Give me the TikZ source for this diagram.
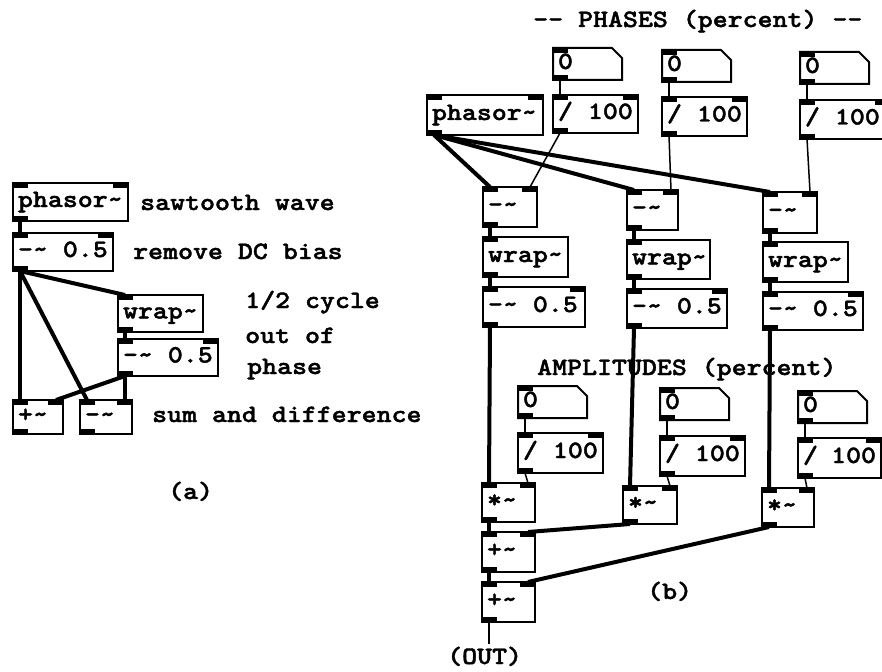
\documentclass[tikz,border=0pt]{standalone}
\usepackage{fontspec}
\newfontfamily\pdmono{lmmonolt10-bold.otf}[FakeStretch=1.14, FakeBold=1.6]
\begin{document}
\tikzset{
  pdtext/.style={font=\pdmono\fontsize{25}{30}\selectfont},
  pdw/.code={\pgfmathsetlengthmacro\pdtw{#1-10pt}},
  pdo/.style 2 args={pdtext, draw, line width=2pt, anchor=north west, inner xsep=5pt, inner ysep=0pt,
    outer sep=0pt, minimum width=#1, minimum height=#2, pdw=#1, text height=12pt, text depth=2pt,
    execute at begin node={\hbox to \pdtw\bgroup}, execute at end node={\hfil\egroup}},
  in2/.style={path picture={
    \fill (path picture bounding box.north west) rectangle ++(15pt,-5pt);
    \fill (path picture bounding box.north east) rectangle ++(-15pt,-5pt);
    \fill (path picture bounding box.south west) rectangle ++(15pt,5pt);}},
  in1/.style={path picture={
    \fill (path picture bounding box.north west) rectangle ++(15pt,-5pt);
    \fill (path picture bounding box.south west) rectangle ++(15pt,5pt);}},
  pdnumtxt/.style={pdtext, anchor=north west, inner xsep=5pt, inner ysep=0pt, outer sep=0pt,
    minimum width=69pt, minimum height=32pt, pdw=69pt, text height=12pt, text depth=2pt,
    execute at begin node={\hbox to \pdtw\bgroup}, execute at end node={\hfil\egroup}},
  sig/.style={line width=4pt},
  ctl/.style={line width=1.5pt},
  lbl/.style={pdtext, anchor=base west, inner sep=0pt},
}
\newcommand\pdnum[4]{%
  \node[pdnumtxt] (#1) at (#2,#3) {#4};
  \draw[line width=2pt] (#1.south west) -- (#1.north west) -- ([xshift=-10pt]#1.north east)
     -- ([yshift=-10pt]#1.north east) -- (#1.south east) -- cycle;
  \fill (#1.north west) rectangle ++(15pt,-5pt);
  \fill (#1.south west) rectangle ++(15pt,5pt);
}
\begin{tikzpicture}[x=1pt,y=-1pt]
\useasboundingbox (0,0) rectangle (882,671);

% ---------------- (a) ----------------
\node[pdo={115pt}{38pt}, in2] (aph) at (13,183) {phasor\char`~};
\node[pdo={100pt}{38pt}, in2] (abias) at (13,233) {-\char`~{} 0.5};
\node[pdo={85pt}{37pt}, in1] (awrap) at (118,295) {wrap\char`~};
\node[pdo={100pt}{37pt}, in2] (abias2) at (118,339) {-\char`~{} 0.5};
\node[pdo={50pt}{34pt}, in2] (aplus) at (13,400) {+\char`~};
\node[pdo={52pt}{34pt}, in2] (aminus) at (80,400) {-\char`~};

\node[lbl] (ta1) at (140,210) {sawtooth wave};
\node[lbl] (ta2) at (133,259) {remove DC bias};
\node[lbl] (ta3) at (245,308) {1/2 cycle};
\node[lbl] (ta4) at (245,343) {out of};
\node[lbl] (ta5) at (247,374) {phase};
\node[lbl] (ta6) at (152,422) {sum and difference};
\node[lbl] (ta7) at (168,499) {(a)};

\draw[sig] ([xshift=7pt]aph.south west) -- ([xshift=7pt]abias.north west);
\draw[sig] ([xshift=7pt]abias.south west) -- ([xshift=7pt]awrap.north west);
\draw[sig] ([xshift=7pt]abias.south west) -- ([xshift=7pt]aplus.north west);
\draw[sig] ([xshift=7pt]abias.south west) -- ([xshift=7pt]aminus.north west);
\draw[sig] ([xshift=7pt]awrap.south west) -- ([xshift=7pt]abias2.north west);
\draw[sig] ([xshift=7pt]abias2.south west) -- ([xshift=-7pt]aplus.north east);
\draw[sig] ([xshift=7pt]abias2.south west) -- ([xshift=-7pt]aminus.north east);

% ---------------- (b) ----------------
\node[lbl] (tb1) at (533,27) {-- PHASES (percent) --};
\node[lbl] (tb2) at (537,375) {AMPLITUDES (percent)};
\node[lbl] (tb3) at (647,599) {(b)};
\node[lbl] (tb4) at (447,664) {(OUT)};

\node[pdo={116pt}{40pt}, in2] (bph) at (427,95) {phasor\char`~};
\pdnum{n1}{553}{48}{0}
\pdnum{n2}{662}{50}{0}
\pdnum{n3}{800}{52}{0}
\node[pdo={85pt}{38pt}, in2] (d1) at (553,95) {/ 100};
\node[pdo={85pt}{39pt}, in2] (d2) at (662,97) {/ 100};
\node[pdo={90pt}{39pt}, in2] (d3) at (800,100) {/ 100};

\node[pdo={54pt}{40pt}, in2] (s1) at (483,187) {-\char`~};
\node[pdo={51pt}{40pt}, in2] (s2) at (627,190) {-\char`~};
\node[pdo={54pt}{41pt}, in2] (s3) at (763,192) {-\char`~};
\node[pdo={85pt}{40pt}, in1] (w1) at (483,237) {wrap\char`~};
\node[pdo={83pt}{39pt}, in1] (w2) at (627,240) {wrap\char`~};
\node[pdo={85pt}{40pt}, in1] (w3) at (763,242) {wrap\char`~};
\node[pdo={102pt}{40pt}, in2] (b1) at (483,287) {-\char`~{} 0.5};
\node[pdo={100pt}{39pt}, in2] (b2) at (627,289) {-\char`~{} 0.5};
\node[pdo={100pt}{38pt}, in2] (b3) at (763,292) {-\char`~{} 0.5};

\pdnum{an1}{518}{386}{0}
\pdnum{an2}{660}{388}{0}
\pdnum{an3}{798}{391}{0}
\node[pdo={85pt}{40pt}, in2] (ad1) at (518,433) {/ 100};
\node[pdo={85pt}{40pt}, in2] (ad2) at (660,436) {/ 100};
\node[pdo={83pt}{40pt}, in2] (ad3) at (798,438) {/ 100};

\node[pdo={53pt}{39pt}, in2] (m1) at (482,483) {*\char`~};
\node[pdo={54pt}{38pt}, in2] (m2) at (623,486) {*\char`~};
\node[pdo={52pt}{39pt}, in2] (m3) at (762,488) {*\char`~};
\node[pdo={53pt}{40pt}, in2] (p1) at (482,532) {+\char`~};
\node[pdo={53pt}{40pt}, in2] (p2) at (482,582) {+\char`~};

% wires
\draw[sig] ([xshift=7pt]bph.south west) -- ([xshift=7pt]s1.north west);
\draw[sig] ([xshift=7pt]bph.south west) -- ([xshift=7pt]s2.north west);
\draw[sig] ([xshift=7pt]bph.south west) -- ([xshift=7pt]s3.north west);
\foreach \i in {1,2,3}{
  \draw[ctl] ([xshift=7pt]n\i.south west) -- ([xshift=7pt]d\i.north west);
  \draw[sig] ([xshift=7pt]s\i.south west) -- ([xshift=7pt]w\i.north west);
  \draw[sig] ([xshift=7pt]w\i.south west) -- ([xshift=7pt]b\i.north west);
  \draw[sig] ([xshift=7pt]b\i.south west) -- ([xshift=7pt]m\i.north west);
  \draw[ctl] ([xshift=7pt]an\i.south west) -- ([xshift=7pt]ad\i.north west);
  \draw[ctl] ([xshift=7pt]ad\i.south west) -- ([xshift=-7pt]m\i.north east);
}
\draw[ctl] ([xshift=7pt]d1.south west) -- ([xshift=-7pt]s1.north east);
\draw[ctl] ([xshift=7pt]d2.south west) -- ([xshift=-7pt]s2.north east);
\draw[ctl] ([xshift=7pt]d3.south west) -- ([xshift=-7pt]s3.north east);
\draw[sig] ([xshift=7pt]m1.south west) -- ([xshift=7pt]p1.north west);
\draw[sig] ([xshift=7pt]m2.south west) -- ([xshift=-7pt]p1.north east);
\draw[sig] ([xshift=7pt]m3.south west) -- ([xshift=-7pt]p2.north east);
\draw[sig] ([xshift=7pt]p1.south west) -- ([xshift=7pt]p2.north west);
\coordinate (outend) at ([xshift=7pt,yshift=-22pt]p2.south west);
\draw[ctl] ([xshift=7pt]p2.south west) -- (outend);
\end{tikzpicture}
\end{document}
